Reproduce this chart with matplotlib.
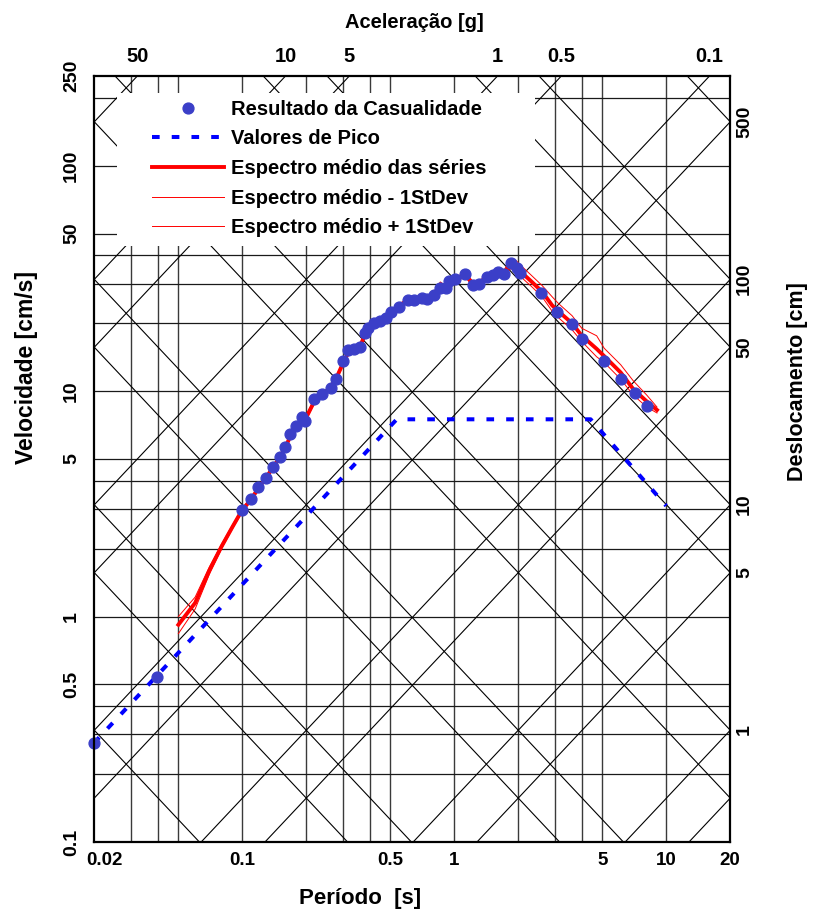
import matplotlib
matplotlib.use("Agg")
import matplotlib.pyplot as plt
import numpy as np
from matplotlib import font_manager
from matplotlib.patches import Rectangle
from matplotlib.ticker import NullLocator
from matplotlib.transforms import ScaledTranslation, blended_transform_factory

G = 981.0  # cm/s2 per g

# Resultado da Casualidade
dot_period = [0.02, 0.0397, 0.0995, 0.110, 0.119, 0.129, 0.139, 0.151, 0.160, 0.169,
              0.179, 0.191, 0.198, 0.219, 0.238, 0.262, 0.277, 0.300, 0.317, 0.337,
              0.359, 0.380, 0.393, 0.420, 0.447, 0.475, 0.503, 0.551, 0.608, 0.648,
              0.703, 0.747, 0.807, 0.857, 0.912, 0.945, 1.014, 1.127, 1.223, 1.314,
              1.424, 1.529, 1.615, 1.723, 1.854, 1.972, 2.043, 2.568, 3.064, 3.584,
              4.021, 5.09, 6.10, 7.13, 8.15]
dot_vel = [0.275, 0.54, 2.97, 3.31, 3.77, 4.13, 4.62, 5.09, 5.67, 6.48,
           7.01, 7.66, 7.35, 9.21, 9.72, 10.36, 11.33, 13.6, 15.2, 15.4,
           15.7, 18.1, 19.0, 20.0, 20.5, 21.1, 22.5, 23.7, 25.4, 25.4,
           26.0, 25.6, 26.7, 28.6, 28.6, 30.9, 31.3, 33.1, 29.7, 29.8,
           32.0, 32.8, 33.9, 33.1, 36.9, 35.1, 33.5, 27.2, 22.5, 19.8,
           17.0, 13.6, 11.3, 9.79, 8.60]

# Valores de Pico
peak_period = [0.02, 0.536, 4.4, 10.0]
peak_vel = [0.275, 7.5, 7.5, 3.1]

# Espectro medio das series and +/- 1 StDev
mean_period = [0.05, 0.06, 0.07, 0.08, 0.09, 0.1, 0.11, 0.12, 0.13, 0.14,
               0.15, 0.16, 0.17, 0.18, 0.19, 0.2, 0.22, 0.24, 0.26, 0.28,
               0.3, 0.32, 0.34, 0.36, 0.38, 0.4, 0.42, 0.45, 0.48, 0.5,
               0.55, 0.61, 0.65, 0.7, 0.75, 0.81, 0.86, 0.91, 0.95, 1.01,
               1.13, 1.22, 1.31, 1.42, 1.53, 1.62, 1.72, 1.85, 1.97, 2.05,
               2.3, 2.6, 2.9, 3.1, 3.6, 4.0, 4.7, 5.1, 6.1, 7.0,
               8.1, 9.05]
mean_vel = [0.92, 1.15, 1.6, 2.05, 2.5, 2.97, 3.3, 3.75, 4.15, 4.6,
            5.05, 5.65, 6.4, 6.95, 7.4, 7.6, 9.1, 9.7, 10.3, 11.6,
            13.4, 15.1, 15.4, 15.8, 17.9, 19.2, 19.9, 20.6, 21.3, 22.3,
            23.8, 25.3, 25.4, 26.0, 25.7, 26.9, 28.5, 28.7, 30.7, 31.3,
            32.8, 30.0, 30.0, 31.9, 32.8, 33.8, 33.4, 36.6, 35.6, 34.0,
            30.8, 27.6, 24.0, 22.6, 20.0, 17.6, 15.4, 14.3, 12.1, 10.2,
            9.0, 8.25]
plus_vel = [1.0, 1.22, 1.66, 2.1, 2.55, 3.02, 3.36, 3.82, 4.22, 4.68,
            5.15, 5.76, 6.5, 7.1, 7.6, 7.8, 9.3, 9.9, 10.5, 11.8,
            13.7, 15.4, 15.7, 16.1, 18.3, 19.6, 20.4, 21.2, 21.8, 22.8,
            24.4, 25.9, 26.0, 26.6, 26.3, 28.0, 30.5, 29.4, 31.4, 32.0,
            33.6, 30.8, 30.8, 32.7, 33.6, 34.6, 34.5, 38.5, 37.8, 36.3,
            32.8, 29.4, 26.2, 24.5, 21.6, 19.0, 17.6, 15.5, 13.1, 11.1,
            9.6, 8.5]
minus_vel = [0.84, 1.08, 1.54, 2.0, 2.45, 2.92, 3.24, 3.68, 4.08, 4.52,
             4.95, 5.55, 6.3, 6.82, 7.25, 7.45, 8.9, 9.5, 10.1, 11.4,
             13.1, 14.8, 15.1, 15.5, 17.5, 18.8, 19.5, 20.1, 20.8, 21.8,
             23.3, 24.8, 24.9, 25.4, 25.2, 26.2, 27.6, 28.1, 30.0, 30.6,
             32.1, 29.3, 29.3, 31.2, 32.0, 33.0, 32.5, 35.0, 33.8, 32.3,
             29.3, 26.2, 22.6, 21.2, 18.7, 16.6, 14.2, 13.4, 11.3, 9.6,
             8.5, 8.0]

# tripartite paper
period_grid = [0.03, 0.04, 0.05, 0.1, 0.2, 0.3, 0.4, 0.5, 1, 2, 3, 4, 5, 10]
vel_grid = [0.2, 0.3, 0.4, 0.5, 1, 2, 3, 4, 5, 10, 20, 30, 40, 50, 100, 200]
disp_lines = [0.001, 0.005, 0.01, 0.05, 0.1, 0.5, 1, 5, 10, 50, 100, 500]
acc_lines = [0.00005, 0.0001, 0.0005, 0.001, 0.005, 0.01, 0.05, 0.1, 0.5, 1, 5, 10, 50]

period_ticks = [0.02, 0.1, 0.5, 1, 5, 10, 20]
period_labels = ["0.02", "0.1", "0.5", "1", "5", "10", "20"]
vel_ticks = [0.1, 0.5, 1, 5, 10, 50, 100, 250]
vel_labels = ["0.1", "0.5", "1", "5", "10", "50", "100", "250"]
acc_labels = [50, 10, 5, 1, 0.5, 0.1]
disp_labels = [500, 100, 50, 10, 5, 1]

T_MIN, T_MAX = 0.02, 20.0
V_MIN, V_MAX = 0.1, 250.0


def has_font(name):
    try:
        font_manager.findfont(font_manager.FontProperties(family=name), fallback_to_default=False)
        return True
    except ValueError:
        return False


REG = "Liberation Sans" if has_font("Liberation Sans") else "DejaVu Sans"
plt.rcParams["font.family"] = [REG, "DejaVu Sans"]
plt.rcParams["font.weight"] = "bold"

fig = plt.figure(figsize=(8.13, 9.13), dpi=100)
ax = fig.add_axes([94 / 813, 71 / 913, 636 / 813, 766 / 913])
ax.set_xscale("log")
ax.set_yscale("log")
ax.set_xlim(T_MIN, T_MAX)
ax.set_ylim(V_MIN, V_MAX)

# grid
for t in period_grid:
    ax.axvline(t, color="#3a3a3a", lw=1.0, zorder=1)
for v in vel_grid:
    ax.axhline(v, color="#1a1a1a", lw=0.9, zorder=1)
tt = np.array([T_MIN, T_MAX])
for d in disp_lines:
    ax.plot(tt, 2 * np.pi * d / tt, color="black", lw=0.8, zorder=1)
for a in acc_lines:
    ax.plot(tt, a * G * tt / (2 * np.pi), color="black", lw=0.8, zorder=1)

# white box behind legend
ax.add_patch(Rectangle((0.036, 0.778), 0.657, 0.2, transform=ax.transAxes,
                       facecolor="white", edgecolor="none", zorder=2))

ax.plot(peak_period, peak_vel, color="#0000ff", lw=2.9, ls=(0, (1.9, 3.0)),
        zorder=3, label="Valores de Pico")
ax.plot(mean_period, minus_vel, color="#ff0000", lw=0.7, zorder=3,
        label="Espectro médio - 1StDev")
ax.plot(mean_period, plus_vel, color="#ff0000", lw=0.7, zorder=3,
        label="Espectro médio + 1StDev")
ax.plot(mean_period, mean_vel, color="#ff0000", lw=2.8, zorder=4,
        label="Espectro médio das séries")
ax.plot(dot_period, dot_vel, "o", color="#3b3fc8", ms=7.8, zorder=5,
        clip_on=False, label="Resultado da Casualidade")

handles, labels = ax.get_legend_handles_labels()
order = [4, 0, 3, 1, 2]
leg = ax.legend([handles[i] for i in order], [labels[i] for i in order],
                loc="upper left", bbox_to_anchor=(0.0907, 0.969), frameon=False,
                borderpad=0, borderaxespad=0, handlelength=3.6, handletextpad=0.35,
                labelspacing=0.53, numpoints=1, prop={"family": REG, "weight": "bold", "size": 14.5})
leg.set_zorder(6)

for s in ax.spines.values():
    s.set_linewidth(1.6)
    s.set_zorder(7)

ax.xaxis.set_minor_locator(NullLocator())
ax.yaxis.set_minor_locator(NullLocator())
ax.set_xticks(period_ticks)
ax.set_xticklabels(period_labels, fontsize=13.5, fontweight="bold")
ax.set_yticks(vel_ticks)
ax.set_yticklabels(vel_labels, fontsize=14, fontweight="bold", rotation=90, va="center")
ax.tick_params(axis="x", length=0, pad=7.5)
ax.tick_params(axis="y", length=0, pad=10)
# first period label sits right of the corner
first = ax.get_xticklabels()[0]
first.set_transform(first.get_transform() + ScaledTranslation(10 / 100, 0, fig.dpi_scale_trans))

# acceleration labels along the top edge
top = blended_transform_factory(ax.transData, ax.transAxes)
for a in acc_labels:
    ax.text(2 * np.pi * V_MAX / (a * G), 1.025, f"{a:g}", transform=top,
            ha="center", va="center", fontsize=14.5, fontweight="bold")

# displacement labels along the right edge
right = blended_transform_factory(ax.transAxes, ax.transData)
for d in disp_labels:
    ax.text(1.023, 2 * np.pi * d / T_MAX, f"{d:g}", transform=right, rotation=90,
            ha="center", va="center", fontsize=14, fontweight="bold")

fig.text(414 / 813, 1 - 22 / 913, "Aceleração [g]", ha="center", va="center",
         fontsize=14.5, fontweight="bold")
fig.text(360 / 813, 1 - 898 / 913, "Período  [s]", ha="center", va="center",
         fontsize=16, fontweight="bold")
fig.text(27 / 813, 1 - 367 / 913, "Velocidade [cm/s]", ha="center", va="center",
         rotation=90, fontsize=16.5, fontweight="bold")
fig.text(797 / 813, 1 - 382 / 913, "Deslocamento [cm]", ha="center", va="center",
         rotation=90, fontsize=15.5, fontweight="bold")

fig.savefig("out.png", dpi=100)
